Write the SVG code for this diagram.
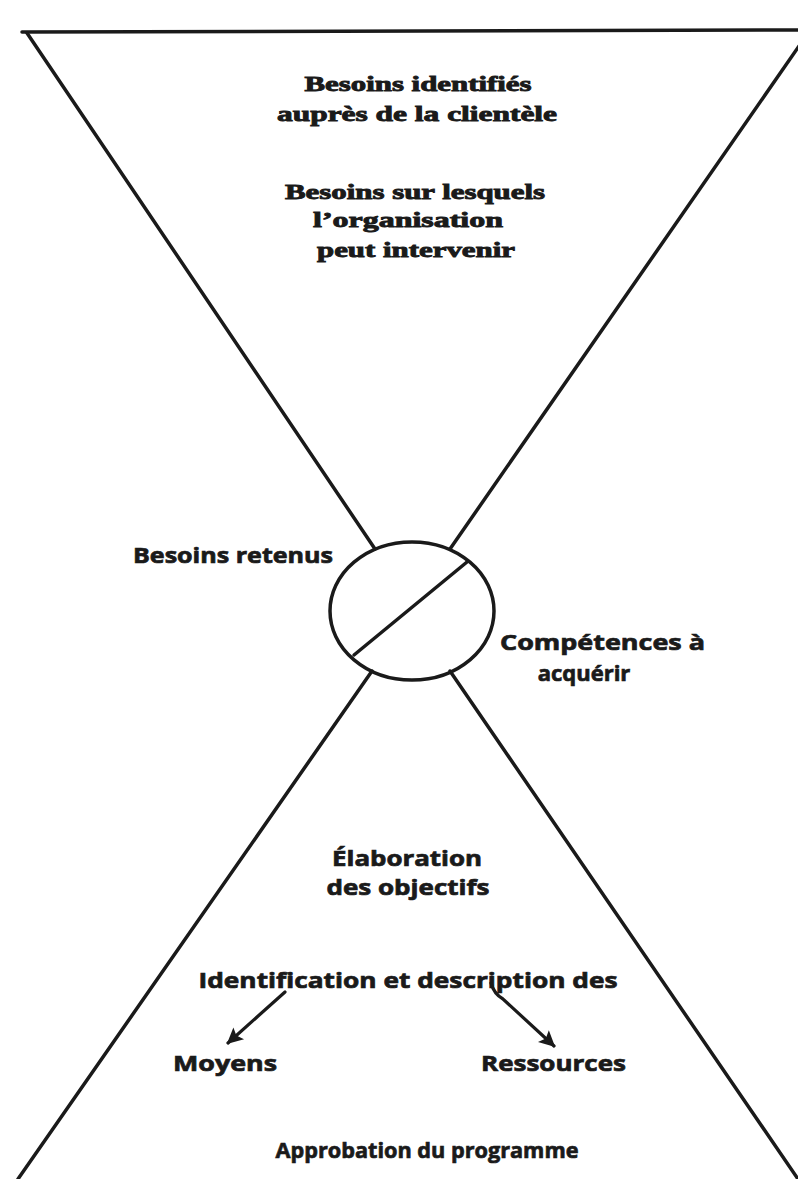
<svg xmlns="http://www.w3.org/2000/svg" width="798" height="1179" viewBox="0 0 798 1179">
<style>
.ln{fill:none;stroke:#1a1a1a;stroke-width:3.5;stroke-linecap:round}
.ser{font-family:"Liberation Serif","Times New Roman",serif;font-weight:bold;font-size:22px;fill:#1a1a1a;stroke:#1a1a1a;stroke-width:0.9;paint-order:stroke}
.sans{font-family:"Open Sans","DejaVu Sans",sans-serif;font-weight:bold;font-size:22px;fill:#1a1a1a;stroke:#1a1a1a;stroke-width:0.7;paint-order:stroke}
.arr{fill:none;stroke:#1a1a1a;stroke-width:3.2;stroke-linecap:round}
</style>
<defs>
<marker id="ah" viewBox="0 0 10 10" refX="9" refY="5" markerWidth="7" markerHeight="5" orient="auto" markerUnits="strokeWidth">
<path d="M0,0 L10,5 L0,10 L2,5 Z" fill="#1a1a1a"/>
</marker>
</defs>
<rect width="798" height="1179" fill="#ffffff"/>
<g id="connectors">
<line class="ln" x1="22" y1="32" x2="798" y2="30" stroke-width="4"/>
<line class="ln" x1="27" y1="33" x2="375" y2="549"/>
<line class="ln" x1="806" y1="36" x2="450" y2="549"/>
<line class="ln" x1="372" y1="671" x2="18" y2="1179"/>
<line class="ln" x1="450" y1="671" x2="798" y2="1179"/>
<path class="arr" d="M285,992 L228,1043" marker-end="url(#ah)"/>
<path class="arr" d="M491,983 Q494,994 503,999 L554,1046" marker-end="url(#ah)"/>
</g>
<g id="circle">
<ellipse class="ln" cx="412" cy="611" rx="82" ry="69"/>
<line class="ln" x1="467" y1="562" x2="354" y2="655"/>
</g>
<g id="top-text">
<text class="ser" x="418" y="91" text-anchor="middle" textLength="227" lengthAdjust="spacingAndGlyphs">Besoins identifiés</text>
<text class="ser" x="417" y="121" text-anchor="middle" textLength="280" lengthAdjust="spacingAndGlyphs">auprès de la clientèle</text>
</g>
<g id="top-text2">
<text class="ser" x="415" y="199" text-anchor="middle" textLength="260" lengthAdjust="spacingAndGlyphs">Besoins sur lesquels</text>
<text class="ser" x="408" y="227" text-anchor="middle" textLength="190" lengthAdjust="spacingAndGlyphs">l’organisation</text>
<text class="ser" x="416" y="257" text-anchor="middle" textLength="198" lengthAdjust="spacingAndGlyphs">peut intervenir</text>
</g>
<g id="besoins-retenus">
<text class="sans" x="133" y="563" textLength="200" lengthAdjust="spacingAndGlyphs">Besoins retenus</text>
</g>
<g id="competences">
<text class="sans" x="500" y="650" textLength="205" lengthAdjust="spacingAndGlyphs">Compétences à</text>
<text class="sans" x="584" y="681" text-anchor="middle">acquérir</text>
</g>
<g id="elaboration">
<text class="sans" x="407" y="866" text-anchor="middle" font-size="20" textLength="150" lengthAdjust="spacingAndGlyphs">Élaboration</text>
<text class="sans" x="408" y="895" text-anchor="middle" font-size="20" textLength="163" lengthAdjust="spacingAndGlyphs">des objectifs</text>
</g>
<g id="identification">
<text class="sans" x="408" y="988" text-anchor="middle" textLength="419" lengthAdjust="spacingAndGlyphs">Identification et description des</text>
</g>
<g id="moyens">
<text class="sans" x="173" y="1071" textLength="104" lengthAdjust="spacingAndGlyphs">Moyens</text>
</g>
<g id="ressources">
<text class="sans" x="481" y="1071" textLength="145" lengthAdjust="spacingAndGlyphs">Ressources</text>
</g>
<g id="approbation">
<text class="sans" x="427" y="1158" text-anchor="middle" textLength="303" lengthAdjust="spacingAndGlyphs">Approbation du programme</text>
</g>
</svg>
